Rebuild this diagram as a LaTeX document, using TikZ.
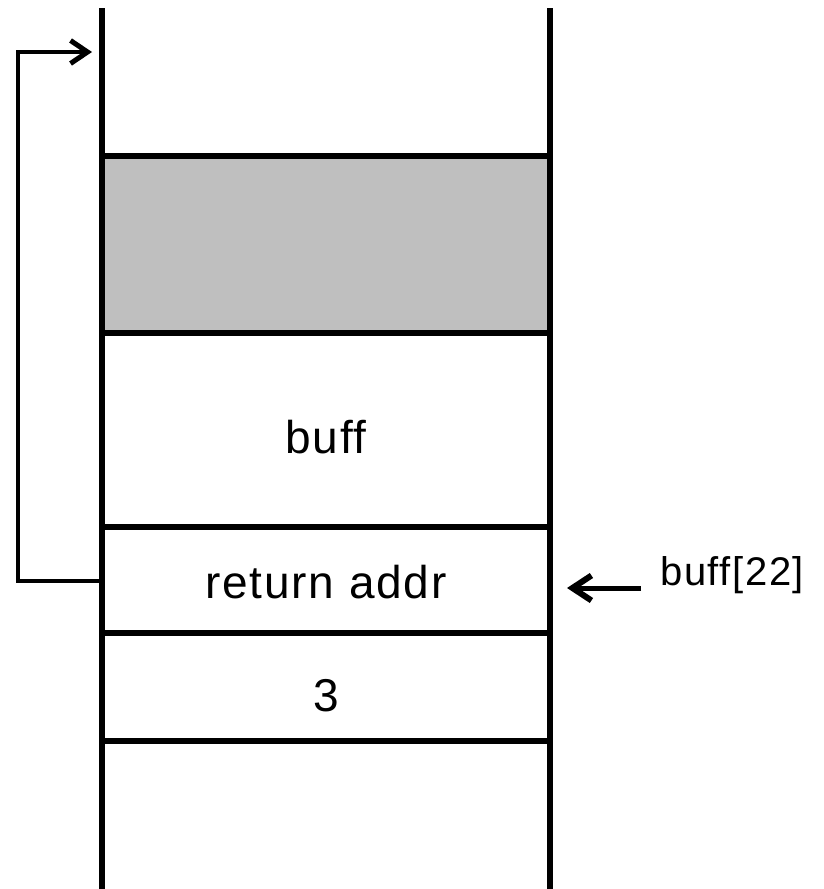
\documentclass[tikz,border=0pt]{standalone}
\usepackage{fontspec}
\setmainfont{Liberation Sans}[Ligatures=CommonOff]
\newfontfamily\labelfont{Liberation Sans}[Ligatures=CommonOff,LetterSpace=4]
\usetikzlibrary{arrows.meta}
\begin{document}
\begin{tikzpicture}[x=1pt,y=-1pt,
  wall/.style={line width=5.5pt},
  rowline/.style={line width=5.5pt},
  loop/.style={line width=4pt},
  lbl/.style={font=\labelfont\fontsize{46}{50}\selectfont, inner sep=0pt, anchor=base},
  side/.style={font=\labelfont\fontsize{40}{44}\selectfont, inner sep=0pt, anchor=base west}]
\useasboundingbox (0,0) rectangle (823,889);
% shaded frame
\fill[fill={rgb,255:red,191;green,191;blue,191}] (102,156) rectangle (550,333);
% stack walls
\coordinate (wl0) at (102,8);
\coordinate (wl1) at (102,889);
\coordinate (wr0) at (550,8);
\coordinate (wr1) at (550,889);
\draw[wall] (wl0) -- (wl1);
\draw[wall] (wr0) -- (wr1);
% row separators
\foreach \y/\n in {156/a,333/b,527/c,633/d,741/e}{
  \coordinate (l\n) at (100,\y);
  \coordinate (r\n) at (552,\y);
  \draw[rowline] (l\n) -- (r\n);
}
% cell labels
\node[lbl] (buff) at (326,453) {buff};
\node[lbl] (ret) at (326,598) {return addr};
\node[lbl] (three) at (326,711) {3};
% return address loop
\coordinate (ls) at (102,581);
\coordinate (lc1) at (18,581);
\coordinate (lc2) at (18,52);
\coordinate (le) at (92,52);
\draw[loop, line join=miter, -{Straight Barb[length=17pt,width=23pt,line width=5pt]}] (ls) -- (lc1) -- (lc2) -- (le);
% pointer label
\node[side] (bl) at (660,585) {buff[22]};
\coordinate (pt) at (567,588);
\coordinate (ps) at (641,588);
\draw[line width=5pt, -{Straight Barb[length=19pt,width=25pt,line width=6pt]}] (ps) -- (pt);
\end{tikzpicture}
\end{document}
